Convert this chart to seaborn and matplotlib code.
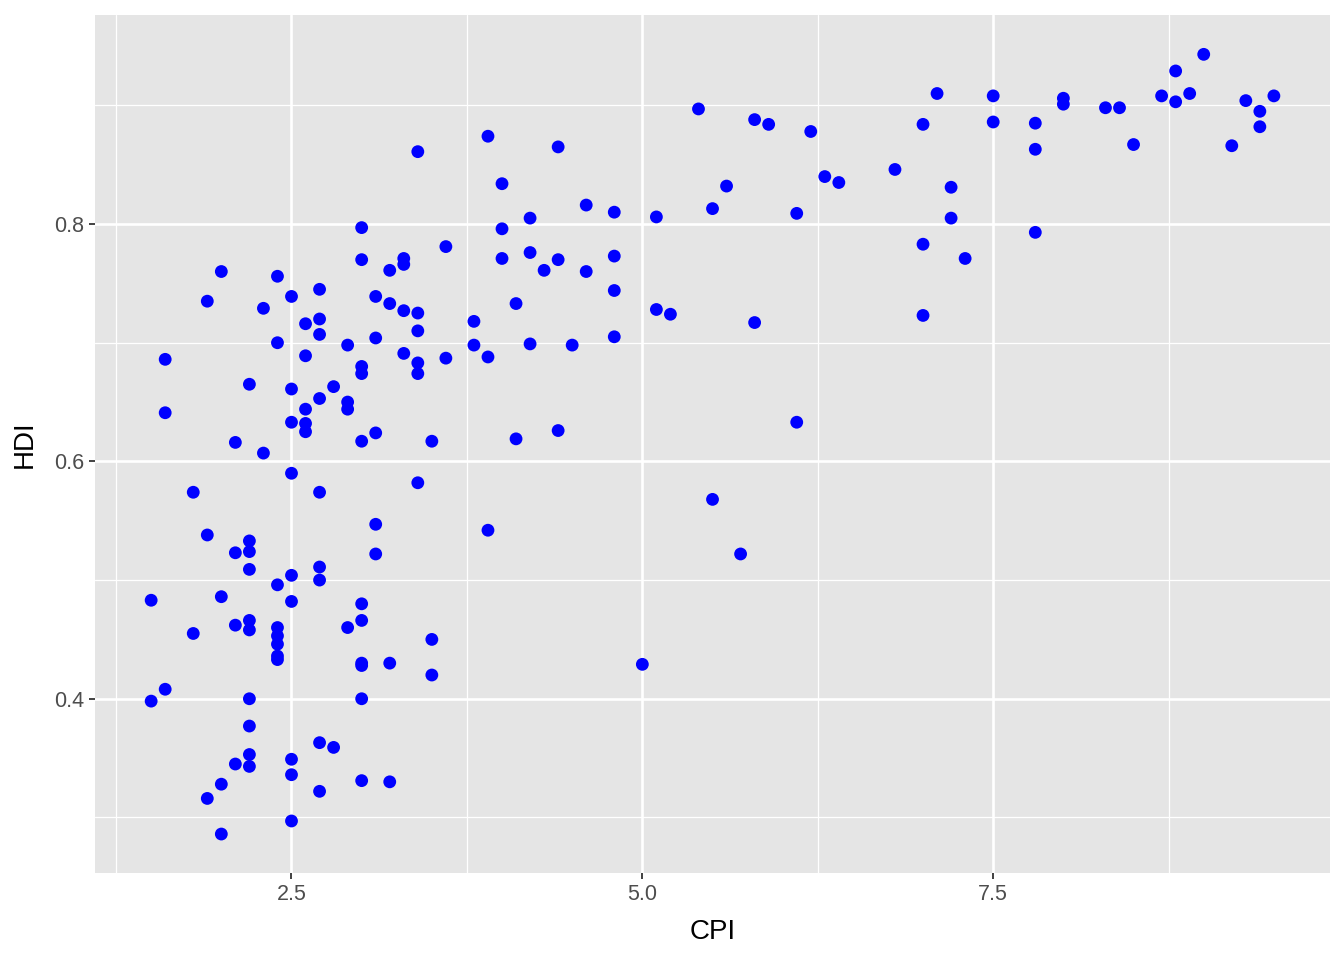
import numpy as np
import pandas as pd
import matplotlib
matplotlib.use("Agg")
import matplotlib.pyplot as plt
import seaborn as sns
from matplotlib.ticker import FixedLocator

# CPI values, grouped column by column
cpi = [1.5, 1.5,
       1.6, 1.6, 1.6,
       1.8, 1.8,
       1.9, 1.9, 1.9,
       2.0, 2.0, 2.0, 2.0,
       2.1, 2.1, 2.1, 2.1,
       2.2, 2.2, 2.2, 2.2, 2.2, 2.2, 2.2, 2.2, 2.2, 2.2,
       2.3, 2.3,
       2.4, 2.4, 2.4, 2.4, 2.4, 2.4, 2.4, 2.4,
       2.5, 2.5, 2.5, 2.5, 2.5, 2.5, 2.5, 2.5, 2.5,
       2.6, 2.6, 2.6, 2.6, 2.6,
       2.7, 2.7, 2.7, 2.7, 2.7, 2.7, 2.7, 2.7, 2.7,
       2.8, 2.8,
       2.9, 2.9, 2.9, 2.9,
       3.0, 3.0, 3.0, 3.0, 3.0, 3.0, 3.0, 3.0, 3.0, 3.0, 3.0,
       3.1, 3.1, 3.1, 3.1, 3.1,
       3.2, 3.2, 3.2, 3.2,
       3.3, 3.3, 3.3, 3.3,
       3.4, 3.4, 3.4, 3.4, 3.4, 3.4,
       3.5, 3.5, 3.5,
       3.6, 3.6,
       3.8, 3.8,
       3.9, 3.9, 3.9,
       4.0, 4.0, 4.0,
       4.1, 4.1,
       4.2, 4.2, 4.2,
       4.3,
       4.4, 4.4, 4.4,
       4.5,
       4.6, 4.6,
       4.8, 4.8, 4.8, 4.8,
       5.0,
       5.1, 5.1,
       5.2,
       5.4,
       5.5, 5.5,
       5.6,
       5.7,
       5.8, 5.8,
       5.9,
       6.1, 6.1,
       6.2,
       6.3,
       6.4,
       6.8,
       7.0, 7.0, 7.0,
       7.1,
       7.2, 7.2,
       7.3,
       7.5, 7.5,
       7.8, 7.8, 7.8,
       8.0, 8.0,
       8.3,
       8.4,
       8.5,
       8.7,
       8.8, 8.8,
       8.9,
       9.0,
       9.2,
       9.3,
       9.4, 9.4,
       9.5]

hdi = [0.483, 0.398,
       0.686, 0.641, 0.408,
       0.574, 0.455,
       0.735, 0.538, 0.316,
       0.760, 0.486, 0.328, 0.286,
       0.616, 0.523, 0.462, 0.345,
       0.665, 0.533, 0.524, 0.509, 0.466, 0.458, 0.400, 0.377, 0.353, 0.343,
       0.729, 0.607,
       0.756, 0.700, 0.496, 0.460, 0.453, 0.446, 0.436, 0.433,
       0.739, 0.661, 0.633, 0.590, 0.504, 0.482, 0.349, 0.336, 0.297,
       0.716, 0.689, 0.644, 0.632, 0.625,
       0.745, 0.720, 0.707, 0.653, 0.574, 0.511, 0.500, 0.363, 0.322,
       0.663, 0.359,
       0.698, 0.650, 0.644, 0.460,
       0.797, 0.770, 0.680, 0.674, 0.617, 0.480, 0.466, 0.430, 0.428, 0.400, 0.331,
       0.739, 0.704, 0.624, 0.547, 0.522,
       0.761, 0.733, 0.430, 0.330,
       0.771, 0.766, 0.727, 0.691,
       0.861, 0.725, 0.710, 0.683, 0.674, 0.582,
       0.617, 0.450, 0.420,
       0.781, 0.687,
       0.718, 0.698,
       0.874, 0.688, 0.542,
       0.834, 0.796, 0.771,
       0.733, 0.619,
       0.805, 0.776, 0.699,
       0.761,
       0.865, 0.770, 0.626,
       0.698,
       0.816, 0.760,
       0.810, 0.773, 0.744, 0.705,
       0.429,
       0.806, 0.728,
       0.724,
       0.897,
       0.813, 0.568,
       0.832,
       0.522,
       0.888, 0.717,
       0.884,
       0.809, 0.633,
       0.878,
       0.840,
       0.835,
       0.846,
       0.884, 0.783, 0.723,
       0.910,
       0.831, 0.805,
       0.771,
       0.908, 0.886,
       0.885, 0.863, 0.793,
       0.906, 0.901,
       0.898,
       0.898,
       0.867,
       0.908,
       0.929, 0.903,
       0.910,
       0.943,
       0.866,
       0.904,
       0.895, 0.882,
       0.908]

x_ticks = [2.5, 5.0, 7.5]
x_tick_labels = ["2.5", "5.0", "7.5"]
y_ticks = [0.4, 0.6, 0.8]
y_tick_labels = ["0.4", "0.6", "0.8"]

df = pd.DataFrame({"CPI": cpi, "HDI": hdi})

sns.set_theme(style="darkgrid", rc={
    "axes.facecolor": "#E5E5E5",
    "grid.color": "white",
    "axes.edgecolor": "#E5E5E5",
})
plt.rcParams["font.family"] = ["Liberation Sans", "DejaVu Sans"]

fig = plt.figure(figsize=(13.44, 9.6), dpi=100)
ax = fig.add_axes([0.0707, 0.0906, 0.9189, 0.8934])

sns.scatterplot(data=df, x="CPI", y="HDI", color="blue", s=85,
                edgecolor="none", linewidth=0, ax=ax, zorder=3)

xmin, xmax = min(cpi), max(cpi)
ymin, ymax = min(hdi), max(hdi)
xpad = (xmax - xmin) * 0.05
ypad = (ymax - ymin) * 0.05
ax.set_xlim(xmin - xpad, xmax + xpad)
ax.set_ylim(ymin - ypad, ymax + ypad)

ax.xaxis.set_major_locator(FixedLocator(x_ticks))
ax.yaxis.set_major_locator(FixedLocator(y_ticks))
ax.set_xticklabels(x_tick_labels)
ax.set_yticklabels(y_tick_labels)
ax.xaxis.set_minor_locator(FixedLocator([1.25, 3.75, 6.25, 8.75]))
ax.yaxis.set_minor_locator(FixedLocator([0.3, 0.5, 0.7, 0.9]))

ax.grid(which="major", color="white", linewidth=1.9)
ax.grid(which="minor", color="white", linewidth=0.9)
ax.set_axisbelow(True)

for s in ax.spines.values():
    s.set_visible(False)

ax.tick_params(which="major", length=4.3, width=1.3, color="#333333",
               labelsize=15.5, labelcolor="#4D4D4D", pad=3.5,
               bottom=True, left=True)
ax.tick_params(which="minor", length=0)

ax.set_xlabel("CPI", fontsize=20, color="black", labelpad=10)
ax.set_ylabel("HDI", fontsize=20, color="black", labelpad=12)

fig.savefig("out.png", dpi=100, facecolor="white")
